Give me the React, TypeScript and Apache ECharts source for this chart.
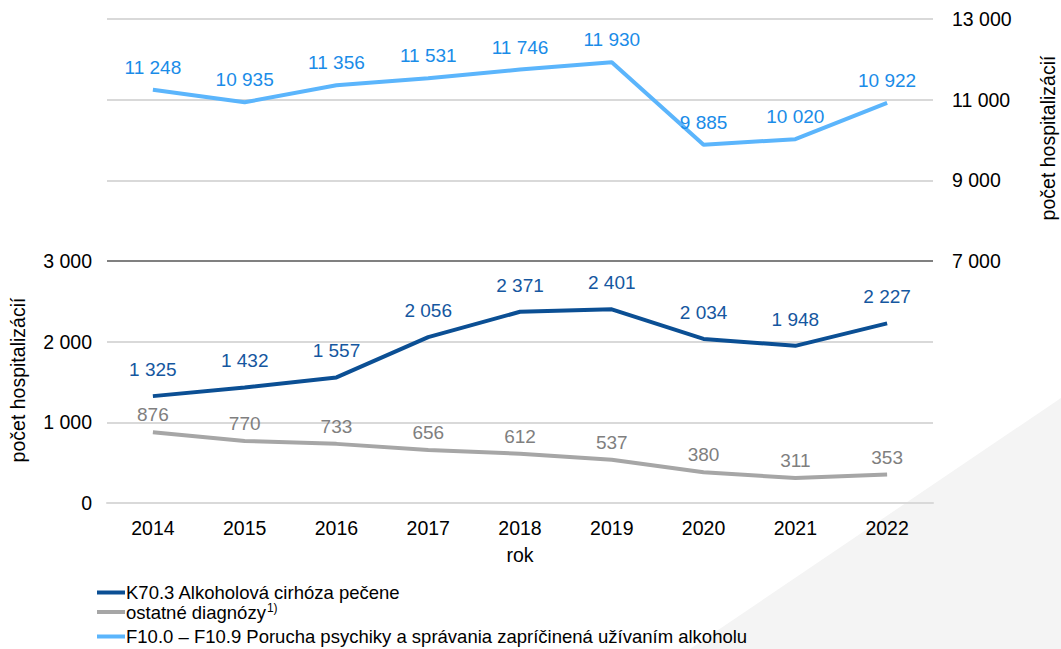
import React, { useEffect, useRef } from "react";
import * as echarts from "echarts";

const years = ["2014", "2015", "2016", "2017", "2018", "2019", "2020", "2021", "2022"];
const cirhoza = [1325, 1432, 1557, 2056, 2371, 2401, 2034, 1948, 2227];
const ostatne = [876, 770, 733, 656, 612, 537, 380, 311, 353];
const poruchy = [11248, 10935, 11356, 11531, 11746, 11930, 9885, 10020, 10922];

const seriesNames = [
  "K70.3 Alkoholová cirhóza pečene",
  "ostatné diagnózy",
  "F10.0 – F10.9 Porucha psychiky a správania zapríčinená užívaním alkoholu",
];

const fmt = (v: number) => String(v).replace(/\B(?=(\d{3})+(?!\d))/g, " ");
const FONT = "Liberation Sans, Arial, sans-serif";
const FS = 19;
const TFS = 19.5;

const legendItem = (name: string, top: number) => ({
  left: 97,
  top,
  orient: "vertical",
  itemWidth: 28,
  itemHeight: 4,
  icon: "rect",
  padding: 0,
  data: [name],
  formatter: (n: string) =>
    n === "ostatné diagnózy" ? "{a|ostatné diagnózy}{s|1)}" : "{a|" + n + "}",
  textStyle: {
    color: "#000",
    fontSize: 18.5,
    fontFamily: FONT,
    padding: [0, 0, 0, -4],
    rich: {
      a: { fontSize: 18.5, fontFamily: FONT, color: "#000" },
      s: { fontSize: 12, fontFamily: FONT, color: "#000", verticalAlign: "top", padding: [0, 0, 8, 1] },
    },
  },
});

export default function App() {
  const ref = useRef<HTMLDivElement>(null);
  useEffect(() => {
    if (!ref.current) return;
    const chart = echarts.init(ref.current, null, { renderer: "svg" });
    const labelFmt = (p: any) => fmt(p.value);
    chart.setOption({
      animation: false,
      backgroundColor: "#ffffff",
      textStyle: { fontFamily: FONT },
      grid: { left: 107, right: 128, top: 19, bottom: 146, containLabel: false },
      graphic: [
        {
          type: "polygon",
          z: -10,
          silent: true,
          shape: { points: [[1061, 398], [1061, 649], [690, 649]] },
          style: { fill: "#f4f4f4" },
        },
        {
          type: "text",
          x: 18,
          y: 380,
          rotation: Math.PI / 2,
          style: {
            text: "počet hospitalizácií",
            fontSize: 19.5,
            fontFamily: FONT,
            fill: "#000",
            align: "center",
            verticalAlign: "middle",
          },
        },
        {
          type: "text",
          x: 1048,
          y: 138,
          rotation: Math.PI / 2,
          style: {
            text: "počet hospitalizácií",
            fontSize: 19.5,
            fontFamily: FONT,
            fill: "#000",
            align: "center",
            verticalAlign: "middle",
          },
        },
      ],
      legend: [
        legendItem(seriesNames[0], 583),
        legendItem(seriesNames[1], 602),
        legendItem(seriesNames[2], 627),
      ],
      xAxis: {
        type: "category",
        data: years,
        name: "rok",
        nameLocation: "middle",
        nameGap: 42,
        nameTextStyle: { fontSize: TFS, color: "#000", fontFamily: FONT },
        axisLine: { show: true, lineStyle: { color: "#d9d9d9", width: 2 } },
        axisTick: { show: false },
        axisLabel: { fontSize: TFS, color: "#000", margin: 15, fontFamily: FONT },
      },
      yAxis: [
        {
          type: "value",
          min: 0,
          max: 6000,
          interval: 1000,
          position: "left",
          splitLine: { show: false },
          axisLine: { show: false },
          axisTick: { show: false },
          axisLabel: {
            fontSize: TFS,
            color: "#000",
            margin: 15,
            fontFamily: FONT,
            formatter: (v: number) => (v <= 3000 ? fmt(v) : ""),
          },
        },
        {
          type: "value",
          min: 1000,
          max: 13000,
          interval: 2000,
          position: "right",
          splitLine: { show: true, lineStyle: { color: "#d9d9d9", width: 2 } },
          axisLine: { show: false },
          axisTick: { show: false },
          axisLabel: {
            fontSize: TFS,
            color: "#000",
            margin: 19,
            fontFamily: FONT,
            formatter: (v: number) => (v >= 7000 ? fmt(v) : ""),
          },
        },
      ],
      series: [
        {
          name: seriesNames[0],
          type: "line",
          yAxisIndex: 0,
          data: cirhoza,
          symbol: "circle",
          symbolSize: 0,
          lineStyle: { color: "#0b4f94", width: 4 },
          itemStyle: { color: "#0b4f94" },
          label: {
            show: true,
            position: "top",
            distance: 17,
            fontSize: FS,
            color: "#1557a0",
            fontFamily: FONT,
            formatter: labelFmt,
          },
          markLine: {
            silent: true,
            symbol: "none",
            label: { show: false },
            lineStyle: { color: "#808080", width: 2, type: "solid" },
            data: [{ yAxis: 3000 }],
          },
          z: 3,
        },
        {
          name: seriesNames[1],
          type: "line",
          yAxisIndex: 0,
          data: ostatne,
          symbol: "circle",
          symbolSize: 0,
          lineStyle: { color: "#a6a6a6", width: 4 },
          itemStyle: { color: "#a6a6a6" },
          label: {
            show: true,
            position: "top",
            distance: 8,
            fontSize: FS,
            color: "#7f7f7f",
            fontFamily: FONT,
            formatter: labelFmt,
          },
          z: 2,
        },
        {
          name: seriesNames[2],
          type: "line",
          yAxisIndex: 1,
          data: poruchy,
          symbol: "circle",
          symbolSize: 0,
          lineStyle: { color: "#5bb5fc", width: 4 },
          itemStyle: { color: "#5bb5fc" },
          label: {
            show: true,
            position: "top",
            distance: 13,
            fontSize: FS,
            color: "#1a8ce8",
            fontFamily: FONT,
            formatter: labelFmt,
          },
          z: 3,
        },
      ],
    });
    return () => chart.dispose();
  }, []);
  return <div ref={ref} style={{ width: 1061, height: 649, position: "absolute", left: 0, top: 0 }} />;
}
